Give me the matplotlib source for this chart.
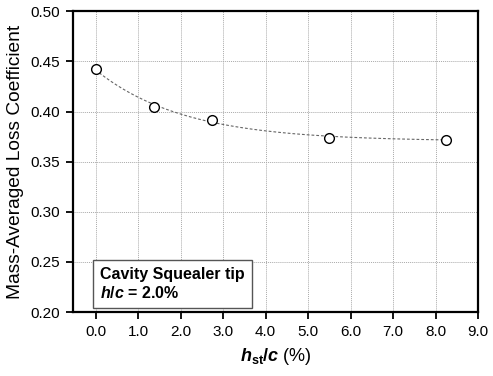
import numpy as np
import matplotlib
matplotlib.use("Agg")
from matplotlib import pyplot as plt

plt.rcParams['font.family'] = ['Liberation Sans', 'DejaVu Sans']
plt.rcParams['mathtext.fontset'] = 'custom'
plt.rcParams['mathtext.rm'] = 'Liberation Sans'
plt.rcParams['mathtext.bf'] = 'Liberation Sans:bold'
plt.rcParams['mathtext.bfit'] = 'Liberation Sans:bold:italic'

# data
hst_c = [0.0, 1.375, 2.75, 5.5, 8.25]
loss = [0.442, 0.405, 0.392, 0.374, 0.372]

x_ticks = [0.0, 1.0, 2.0, 3.0, 4.0, 5.0, 6.0, 7.0, 8.0, 9.0]
y_ticks = [0.20, 0.25, 0.30, 0.35, 0.40, 0.45, 0.50]


def exp_fit(x, y):
    # y = a + b*exp(-x/c), c by grid search, a and b by least squares
    x = np.asarray(x)
    y = np.asarray(y)
    best = None
    for c in np.linspace(0.3, 10, 400):
        A = np.column_stack([np.ones_like(x), np.exp(-x / c)])
        coef, res, _, _ = np.linalg.lstsq(A, y, rcond=None)
        err = np.sum((A @ coef - y) ** 2)
        if best is None or err < best[0]:
            best = (err, c, coef)
    return best[1], best[2]


fig = plt.figure(figsize=(4.93, 3.76), dpi=100)
ax = fig.add_axes([0.148, 0.17, 0.822, 0.80])

c, coef = exp_fit(hst_c, loss)
xs = np.linspace(min(hst_c), max(hst_c), 200)
ax.plot(xs, coef[0] + coef[1] * np.exp(-xs / c), color='#666666', lw=0.8,
        dashes=(2.5, 1.8), zorder=2)
ax.plot(hst_c, loss, 'o', ms=7, mfc='white', mec='black', mew=1.0, zorder=3)

ax.set_xlim(-0.53, 9.0)
ax.set_ylim(0.20, 0.50)
ax.set_xticks(x_ticks)
ax.set_xticklabels(["%.1f" % v for v in x_ticks])
ax.set_yticks(y_ticks)
ax.set_yticklabels(["%.2f" % v for v in y_ticks])
ax.grid(True, ls=(0, (1, 1)), color='#aaaaaa', lw=0.7)
ax.set_axisbelow(True)
for s in ax.spines.values():
    s.set_linewidth(1.6)
ax.tick_params(direction='out', length=5, width=1.3, labelsize=11, pad=4)

ax.set_ylabel("Mass-Averaged Loss Coefficient", fontsize=13.8, labelpad=5)
ax.set_xlabel(r"$\boldsymbol{h}_{\mathbf{st}}\boldsymbol{/c}$ (%)", fontsize=13, labelpad=5)

ax.text(0.067, 0.15, "Cavity Squealer tip\n" + r"$\boldsymbol{h/c}$" + " = 2.0%",
        transform=ax.transAxes, fontsize=11.5, fontweight='bold', va='top', ha='left',
        linespacing=1.2,
        bbox=dict(boxstyle='square,pad=0.45', fc='white', ec='#555555', lw=1.0))

fig.savefig("out.png", dpi=100)
